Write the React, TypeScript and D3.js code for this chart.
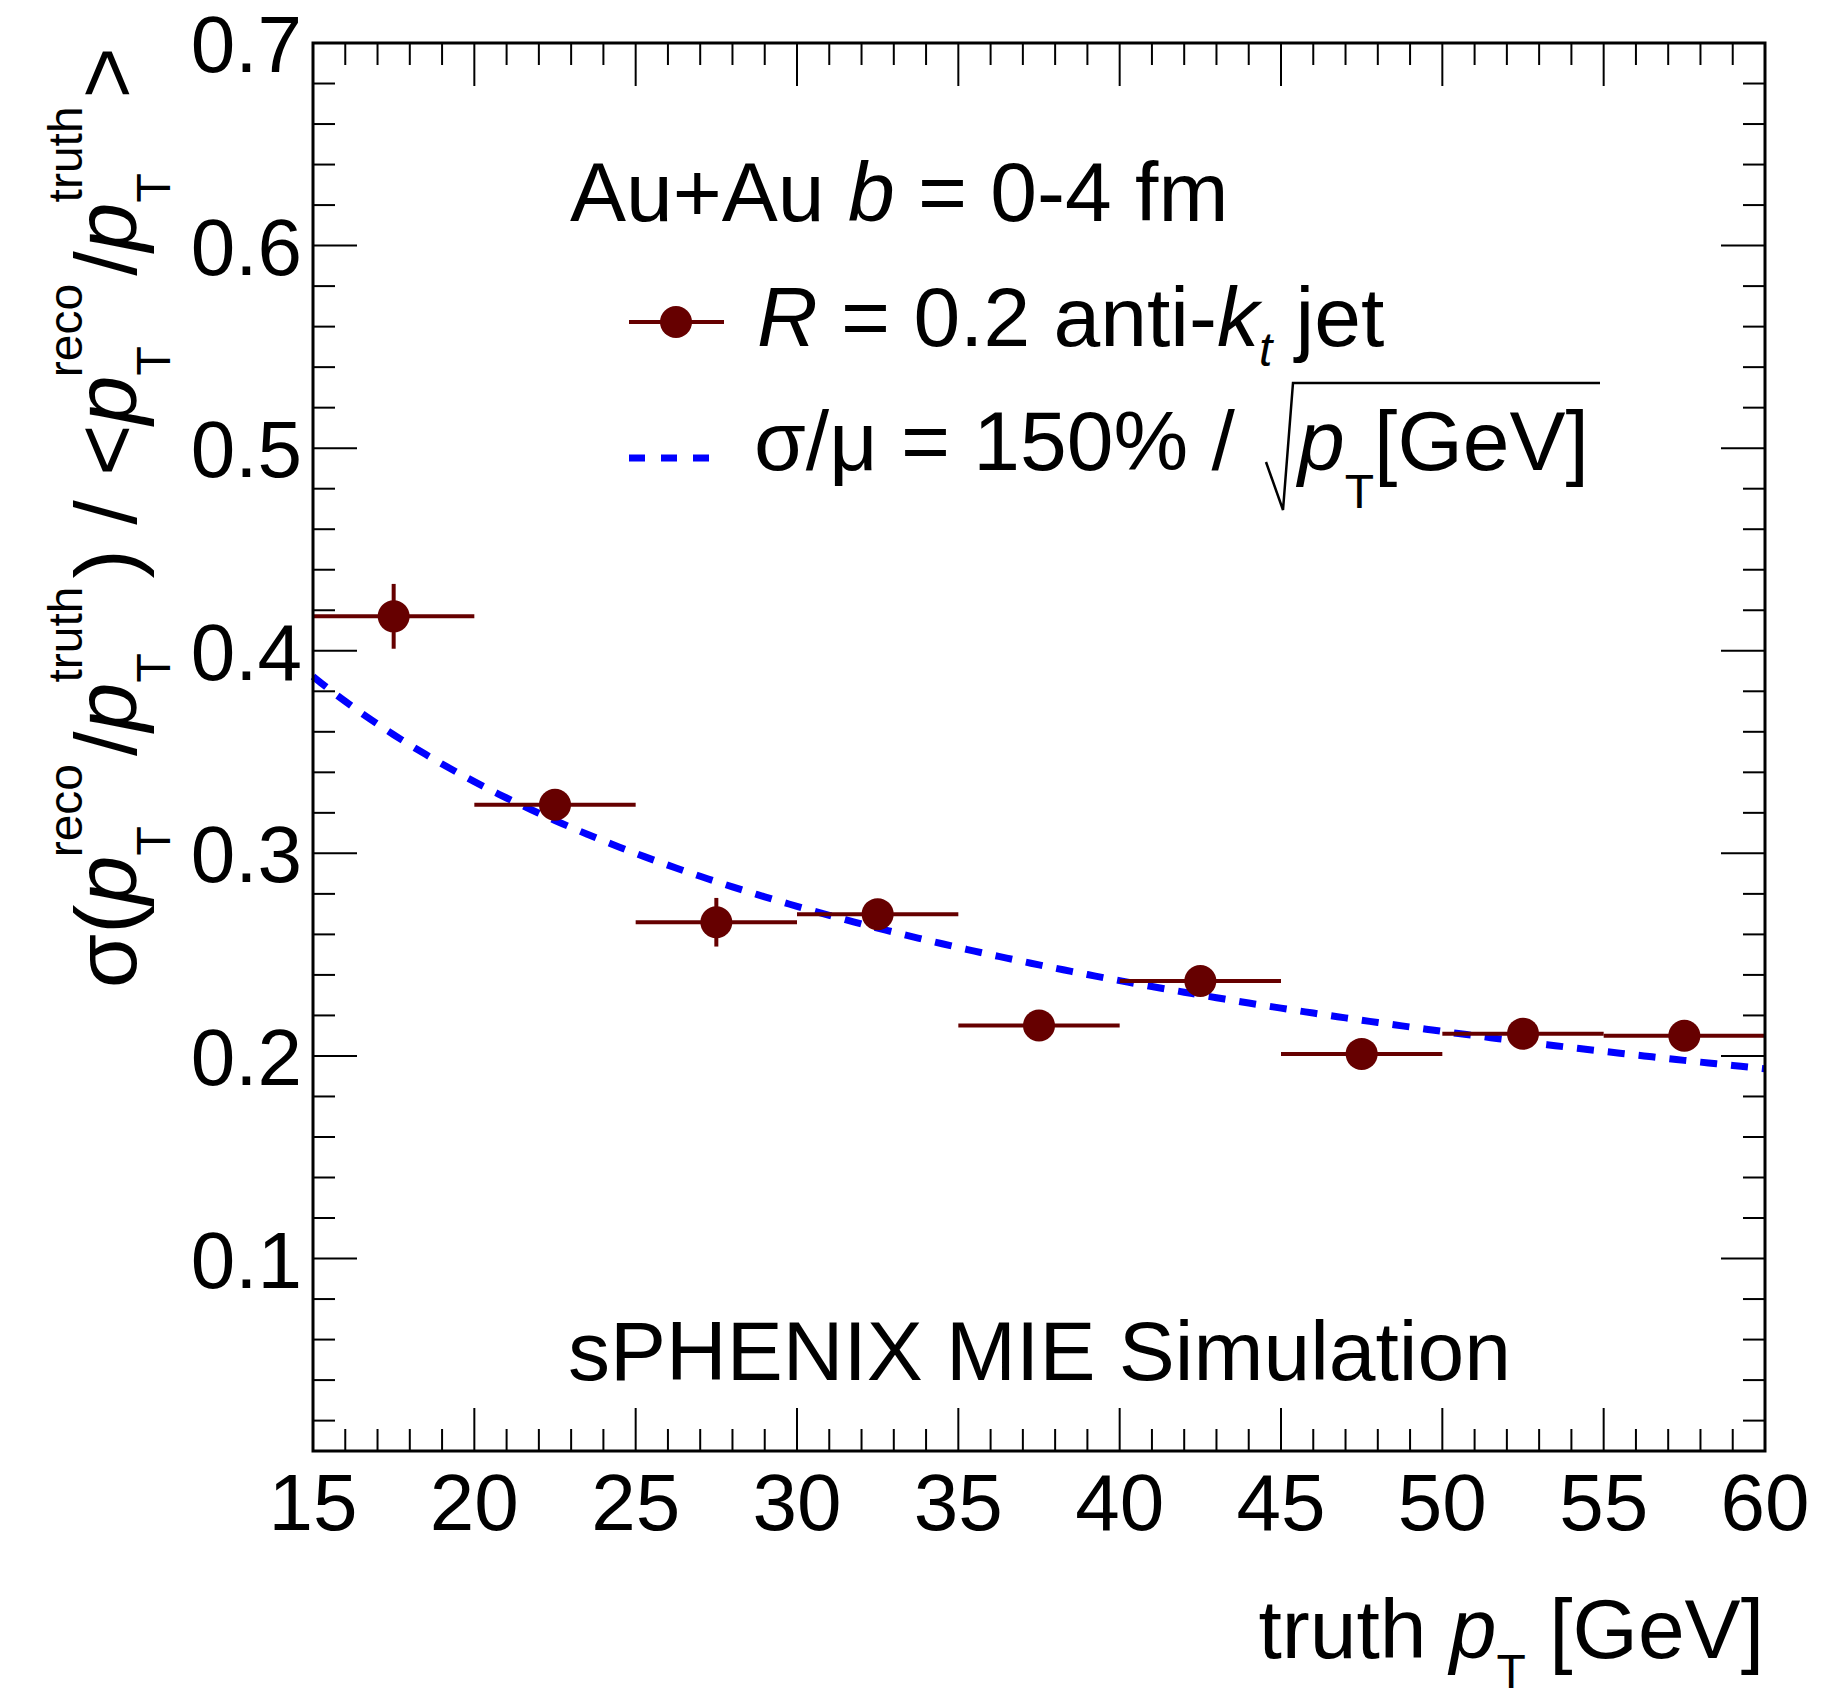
import React from 'react';
import * as d3 from 'd3';

// ---- data ----
const binLow = [15, 20, 25, 30, 35, 40, 45, 50, 55];
const binHigh = [20, 25, 30, 35, 40, 45, 50, 55, 60];
const binCenter = [17.5, 22.5, 27.5, 32.5, 37.5, 42.5, 47.5, 52.5, 57.5];
const resolution = [0.417, 0.324, 0.266, 0.27, 0.215, 0.237, 0.201, 0.211, 0.21];
const resolutionErr = [0.016, 0.006, 0.012, 0.006, 0.005, 0.006, 0.005, 0.006, 0.007];
const xMajorTicks = [15, 20, 25, 30, 35, 40, 45, 50, 55, 60];
const xTickLabels = ['15', '20', '25', '30', '35', '40', '45', '50', '55', '60'];
const yMajorTicks = [0.1, 0.2, 0.3, 0.4, 0.5, 0.6, 0.7];
const yTickLabels = ['0.1', '0.2', '0.3', '0.4', '0.5', '0.6', '0.7'];
const xDomain = [15, 60];
const yDomain = [0.005, 0.7];
const fitCoefficient = 1.5; // sigma/mu = 150% / sqrt(pT)

const W = 1834;
const H = 1697;
const L = 313;
const R = 1765;
const T = 43;
const B = 1451;

const FONT = '"Liberation Sans", Arial, Helvetica, sans-serif';
const DATA_COLOR = '#660000';

export default function App() {
  const x = d3.scaleLinear().domain(xDomain).range([L, R]);
  const y = d3.scaleLinear().domain(yDomain).range([B, T]);

  const xMinor = d3.range(16, 60, 1).filter((v) => v % 5 !== 0);
  const yMinor = d3
    .range(1, 35)
    .map((i) => +(i * 0.02).toFixed(3))
    .filter((v) => Math.round(v * 100) % 10 !== 0 && v > yDomain[0] && v < yDomain[1]);

  const curveX = d3.range(15, 60.001, 0.25);
  const line = d3
    .line<number>()
    .x((d) => x(d))
    .y((d) => y(fitCoefficient / Math.sqrt(d)));

  const tickStroke = '#000';
  const subSize = 48;
  const textSize = 84;
  const ySub = 34;
  const ySup = 54;

  const yGroup = (sup: string, key: string) => [
    <tspan key={key + 'p'} fontStyle="italic">p</tspan>,
    <tspan key={key + 't'} fontSize={subSize} dy={ySub}>T</tspan>,
    <tspan key={key + 's'} fontSize={subSize} dx={-29.3} dy={-(ySub + ySup)}>{sup}</tspan>,
  ];

  return (
    <svg
      width={W}
      height={H}
      viewBox={`0 0 ${W} ${H}`}
      style={{ position: 'absolute', left: 0, top: 0, display: 'block', background: '#fff' }}
      fontFamily={FONT}
    >
      <rect x={0} y={0} width={W} height={H} fill="#fff" />

      {/* ticks */}
      <g stroke={tickStroke} strokeWidth={2}>
        {xMajorTicks.map((v) => (
          <g key={'xm' + v}>
            <line x1={x(v)} x2={x(v)} y1={B} y2={B - 43} />
            <line x1={x(v)} x2={x(v)} y1={T} y2={T + 43} />
          </g>
        ))}
        {xMinor.map((v) => (
          <g key={'xn' + v}>
            <line x1={x(v)} x2={x(v)} y1={B} y2={B - 22} />
            <line x1={x(v)} x2={x(v)} y1={T} y2={T + 22} />
          </g>
        ))}
        {yMajorTicks.map((v) => (
          <g key={'ym' + v}>
            <line x1={L} x2={L + 44} y1={y(v)} y2={y(v)} />
            <line x1={R} x2={R - 44} y1={y(v)} y2={y(v)} />
          </g>
        ))}
        {yMinor.map((v) => (
          <g key={'yn' + v}>
            <line x1={L} x2={L + 22} y1={y(v)} y2={y(v)} />
            <line x1={R} x2={R - 22} y1={y(v)} y2={y(v)} />
          </g>
        ))}
      </g>

      {/* tick labels */}
      <g fontSize={80} fill="#000">
        {xMajorTicks.map((v, i) => (
          <text key={'xl' + v} x={x(v)} y={1530} textAnchor="middle">
            {xTickLabels[i]}
          </text>
        ))}
        {yMajorTicks.map((v, i) => (
          <text key={'yl' + v} x={302} y={y(v) + 29} textAnchor="end">
            {yTickLabels[i]}
          </text>
        ))}
      </g>

      {/* fit curve */}
      <path
        d={line(curveX) || ''}
        fill="none"
        stroke="#0000ff"
        strokeWidth={7}
        strokeDasharray="17 14"
      />

      {/* data points */}
      <g stroke={DATA_COLOR} fill={DATA_COLOR}>
        {binCenter.map((c, i) => (
          <g key={'p' + i}>
            <line x1={x(binLow[i])} x2={x(binHigh[i])} y1={y(resolution[i])} y2={y(resolution[i])} strokeWidth={4} />
            <line
              x1={x(c)}
              x2={x(c)}
              y1={y(resolution[i] - resolutionErr[i])}
              y2={y(resolution[i] + resolutionErr[i])}
              strokeWidth={4}
            />
            <circle cx={x(c)} cy={y(resolution[i])} r={16} stroke="none" />
          </g>
        ))}
      </g>

      {/* frame */}
      <rect x={L} y={T} width={R - L} height={B - T} fill="none" stroke="#000" strokeWidth={3} />

      {/* header text */}
      <text x={570} y={221} fontSize={textSize}>
        {'Au+Au '}
        <tspan fontStyle="italic">b</tspan>
        {' = 0-4 fm'}
      </text>

      {/* legend */}
      <line x1={629} x2={724} y1={322} y2={322} stroke={DATA_COLOR} strokeWidth={4} />
      <circle cx={676} cy={322} r={16} fill={DATA_COLOR} />
      <text x={757} y={346} fontSize={textSize}>
        <tspan fontStyle="italic">R</tspan>
        {' = 0.2 anti-'}
        <tspan fontStyle="italic">k</tspan>
        <tspan fontStyle="italic" fontSize={subSize} dy={20}>t</tspan>
        <tspan dy={-20}>{' jet'}</tspan>
      </text>

      <line x1={629} x2={712} y1={458} y2={458} stroke="#0000ff" strokeWidth={7} strokeDasharray="16 16" />
      <text x={754} y={470} fontSize={textSize}>
        {'σ/μ = 150% /'}
      </text>
      <path d="M1266,462 L1283,510 L1293,383 H1600" fill="none" stroke="#000" strokeWidth={2.5} />
      <text x={1298} y={470} fontSize={textSize}>
        <tspan fontStyle="italic">p</tspan>
        <tspan fontSize={subSize} dy={38}>T</tspan>
        <tspan dy={-38}>[GeV]</tspan>
      </text>

      {/* simulation label */}
      <text x={568} y={1380} fontSize={textSize}>
        sPHENIX MIE Simulation
      </text>

      {/* x title */}
      <text x={1764} y={1658} fontSize={textSize} textAnchor="end">
        {'truth '}
        <tspan fontStyle="italic">p</tspan>
        <tspan fontSize={subSize} dy={30}>T</tspan>
        <tspan dy={-30}>{' [GeV]'}</tspan>
      </text>

      {/* y title */}
      <text transform="translate(136,47) rotate(-90)" fontSize={88} textAnchor="end">
        {'σ('}
        {yGroup('reco', 'a')}
        <tspan dx={8} dy={ySup}>/</tspan>
        {yGroup('truth', 'b')}
        <tspan dx={8} dy={ySup}>{') / <'}</tspan>
        {yGroup('reco', 'c')}
        <tspan dx={8} dy={ySup}>/</tspan>
        {yGroup('truth', 'd')}
        <tspan dx={8} dy={ySup}>{'>'}</tspan>
      </text>
    </svg>
  );
}
